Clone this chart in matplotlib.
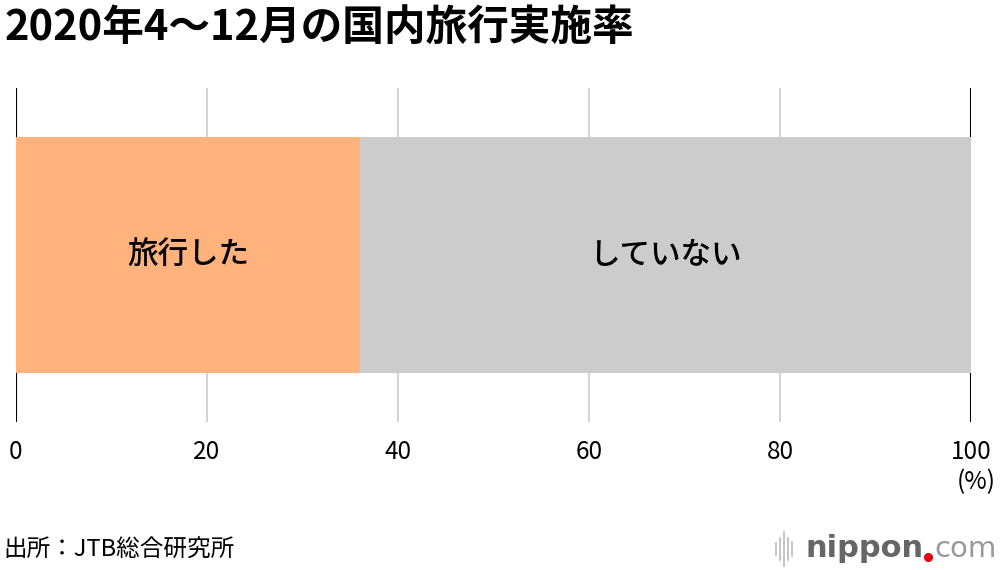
import matplotlib.pyplot as plt

plt.rcParams['font.family'] = ['Noto Sans CJK JP', 'DejaVu Sans']

# data
labels = ['旅行した', 'していない']
values = [36.0, 64.0]
colors = ['#ffb27b', '#cccccc']
ticks = [0, 20, 40, 60, 80, 100]

fig = plt.figure(figsize=(10, 5.7), dpi=100)
ax = fig.add_axes([0.016, 0.2596, 0.955, 0.586])

# gridlines
for t in ticks:
    c = 'black' if t in (0, 100) else '#cccccc'
    ax.axvline(t, color=c, lw=1.5 if t in (0, 100) else 1.2, zorder=0)

left = 0
for lab, v, c in zip(labels, values, colors):
    ax.barh(0, v, left=left, height=0.7066, color=c, zorder=2)
    ax.text(left + v / 2, 0, lab, ha='center', va='center', fontsize=22,
            fontweight='medium', zorder=3)
    left += v

ax.set_xlim(0, 100)
ax.set_ylim(-0.5, 0.5)
ax.set_xticks(ticks)
ax.set_xticklabels([str(t) for t in ticks], fontsize=17.5)
ax.tick_params(axis='x', length=0, pad=12)
ax.set_yticks([])
for s in ax.spines.values():
    s.set_visible(False)
ax.patch.set_alpha(0)

fig.text(0.996, 1 - 482 / 570, '(%)', ha='right', va='center', fontsize=17.5)

fig.text(0.005, 1 - 28 / 570, '2020年4〜12月の国内旅行実施率', ha='left', va='center',
         fontsize=30, fontweight='bold')
fig.text(0.003, 1 - 550 / 570, '出所：JTB総合研究所', ha='left', va='center', fontsize=17)

# nippon.com logo
for i, h in enumerate([0.010, 0.020, 0.030, 0.020, 0.012]):
    x = 0.776 + i * 0.004
    fig.add_artist(plt.Line2D([x, x], [0.037 - h, 0.037 + h], color='#bbbbbb', lw=1.2))
fig.text(0.806, 0.037, 'nippon', ha='left', va='center', fontsize=22, color='#666666',
         fontweight='bold', family='DejaVu Sans')
fig.add_artist(plt.Line2D([0.928], [0.022], marker='o', markersize=5.5,
                          color='#e60012', lw=0))
fig.text(0.934, 0.037, 'com', ha='left', va='center', fontsize=21, color='#999999',
         family='DejaVu Sans')

fig.savefig('out.png', dpi=100)
